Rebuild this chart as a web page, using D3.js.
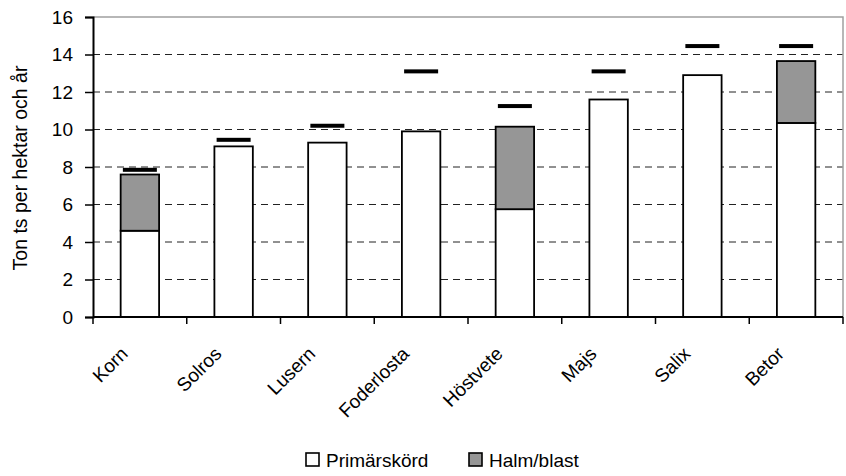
<!DOCTYPE html>
<html>
<head>
<meta charset="utf-8">
<script src="https://cdn.jsdelivr.net/npm/d3@7"></script>
<style>
  html, body { margin: 0; padding: 0; background: #fff; }
  svg { display: block; }
  text { font-family: "Liberation Sans", Arial, sans-serif; fill: #000; }
</style>
</head>
<body>
<svg id="chart" width="846" height="476"></svg>
<script>
// Yield per crop (ton dry matter per hectare and year)
const crops = ["Korn", "Solros", "Lusern", "Foderlosta", "Höstvete", "Majs", "Salix", "Betor"];
const primary = [4.6, 9.1, 9.3, 9.9, 5.75, 11.6, 12.9, 10.35];
const straw = [3.0, 0, 0, 0, 4.4, 0, 0, 3.3];
const potential = [7.85, 9.45, 10.2, 13.1, 11.25, 13.1, 14.45, 14.45];
const yTicks = [0, 2, 4, 6, 8, 10, 12, 14, 16];
const seriesNames = ["Primärskörd", "Halm/blast"];
const seriesColors = ["#ffffff", "#969696"];

const svg = d3.select("#chart");
const plot = { left: 93, right: 843, top: 17, bottom: 317 };

const x = d3.scaleBand()
  .domain(crops)
  .range([plot.left, plot.right])
  .paddingInner(0.59)
  .paddingOuter(0.295);

const y = d3.scaleLinear().domain([0, 16]).range([plot.bottom, plot.top]);

// Dashed gridlines
svg.append("g")
  .selectAll("line")
  .data(yTicks.filter(t => t > 0 && t < 16))
  .join("line")
  .attr("x1", plot.left).attr("x2", plot.right)
  .attr("y1", d => y(d)).attr("y2", d => y(d))
  .attr("stroke", "#222").attr("stroke-width", 1)
  .attr("stroke-dasharray", "7,5");

// Plot area border (top and right)
svg.append("path")
  .attr("d", `M${plot.left},${y(16)}H${plot.right}V${plot.bottom}`)
  .attr("fill", "none").attr("stroke", "#a0a0a0").attr("stroke-width", 1.5);

// Stacked bars: primary crop at the bottom, straw/tops on top
const stackData = crops.map((c, i) => ({ crop: c, p: primary[i], s: straw[i] }));
const barG = svg.append("g");
stackData.forEach(d => {
  barG.append("rect")
    .attr("x", x(d.crop)).attr("width", x.bandwidth())
    .attr("y", y(d.p)).attr("height", y(0) - y(d.p))
    .attr("fill", seriesColors[0]).attr("stroke", "#000").attr("stroke-width", 1.8);
  if (d.s > 0) {
    barG.append("rect")
      .attr("x", x(d.crop)).attr("width", x.bandwidth())
      .attr("y", y(d.p + d.s)).attr("height", y(d.p) - y(d.p + d.s))
      .attr("fill", seriesColors[1]).attr("stroke", "#000").attr("stroke-width", 1.8);
  }
});

// Potential yield markers
svg.append("g")
  .selectAll("rect")
  .data(crops)
  .join("rect")
  .attr("x", d => x(d) + x.bandwidth() / 2 - 17)
  .attr("width", 34)
  .attr("y", (d, i) => y(potential[i]) - 2)
  .attr("height", 4)
  .attr("fill", "#000");

// Y axis
const yAxis = svg.append("g")
  .attr("transform", `translate(${plot.left},0)`)
  .call(d3.axisLeft(y).tickValues(yTicks).tickSize(8).tickPadding(12).tickFormat(d3.format("d")));
yAxis.select(".domain").attr("stroke", "#000").attr("stroke-width", 2);
yAxis.selectAll(".tick line").attr("stroke", "#000").attr("stroke-width", 1.5);
yAxis.selectAll("text")
  .attr("font-size", 19).attr("font-family", null).attr("fill", "#000");

// X axis with ticks on category boundaries
const xAxisG = svg.append("g");
xAxisG.append("line")
  .attr("x1", plot.left).attr("x2", plot.right)
  .attr("y1", plot.bottom).attr("y2", plot.bottom)
  .attr("stroke", "#000").attr("stroke-width", 2);
const step = x.step();
const edges = d3.range(crops.length + 1).map(i => plot.left + i * step);
xAxisG.selectAll("line.tick")
  .data(edges)
  .join("line")
  .attr("class", "tick")
  .attr("x1", d => d).attr("x2", d => d)
  .attr("y1", plot.bottom).attr("y2", plot.bottom + 7)
  .attr("stroke", "#000").attr("stroke-width", 1.5);

xAxisG.selectAll("text")
  .data(crops)
  .join("text")
  .attr("transform", d => `translate(${x(d) + x.bandwidth() / 2 - 11},${plot.bottom + 38}) rotate(-45)`)
  .attr("text-anchor", "end")
  .attr("font-size", 19)
  .text(d => d);

// Y axis title
svg.append("text")
  .attr("transform", `translate(27,${(plot.top + plot.bottom) / 2 + 1}) rotate(-90)`)
  .attr("text-anchor", "middle")
  .attr("font-size", 19.5)
  .text("Ton ts per hektar och år");

// Legend
const legend = svg.append("g").attr("transform", "translate(306,453)");
const legendX = [0, 163];
seriesNames.forEach((name, i) => {
  const g = legend.append("g").attr("transform", `translate(${legendX[i]},0)`);
  g.append("rect").attr("x", 0).attr("y", 0).attr("width", 13).attr("height", 13)
    .attr("fill", seriesColors[i]).attr("stroke", "#000").attr("stroke-width", 1.6);
  g.append("text").attr("x", 20).attr("y", 14).attr("font-size", 19).text(name);
});
</script>
</body>
</html>
